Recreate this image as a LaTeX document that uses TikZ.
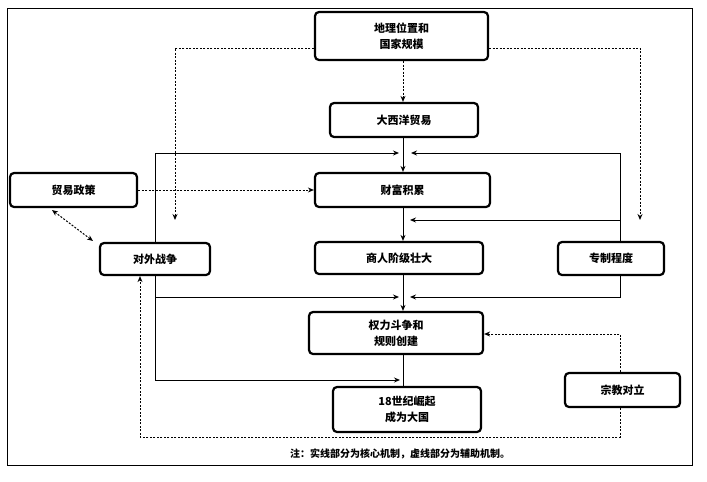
\documentclass[tikz,border=0pt]{standalone}
\usepackage{fontspec}
\setmainfont{Noto Sans CJK SC}
\usetikzlibrary{arrows.meta}
\begin{document}
\begin{tikzpicture}[x=1pt,y=-1pt,
  box/.style={draw,line width=2.2pt,rounded corners=4pt,align=center,font=\bfseries\fontsize{11}{16}\selectfont,inner sep=0pt},
  sol/.style={line width=1pt,-{Stealth[length=6pt,width=5pt]}},
  dsh/.style={line width=1pt,dash pattern=on 2pt off 1.5pt,-{Stealth[length=6pt,width=5pt]}}]
\useasboundingbox (0,0) rectangle (707,482);
\draw[line width=1pt] (7,8) rectangle (692,465);
\node[box,minimum width=173pt,minimum height=48pt] (geo) at (401.5,36) {地理位置和\\国家规模};
\node[box,minimum width=148pt,minimum height=34pt] (atl) at (404,120) {大西洋贸易};
\node[box,minimum width=175pt,minimum height=34pt] (wea) at (402.5,190) {财富积累};
\node[box,minimum width=127pt,minimum height=34pt] (tp) at (73.5,190) {贸易政策};
\node[box,minimum width=110pt,minimum height=32pt] (war) at (155,259) {对外战争};
\node[box,minimum width=168pt,minimum height=32pt] (mer) at (399,258) {商人阶级壮大};
\node[box,minimum width=106pt,minimum height=33pt] (des) at (611,258.5) {专制程度};
\node[box,minimum width=174pt,minimum height=42pt] (pow) at (396,333) {权力斗争和\\规则创建};
\node[box,minimum width=148pt,minimum height=45pt] (ris) at (407,409.5) {18世纪崛起\\成为大国};
\node[box,minimum width=115pt,minimum height=34pt] (rel) at (622.5,390) {宗教对立};
\node[font=\bfseries\fontsize{10}{12}\selectfont] (note) at (400,454) {注：实线部分为核心机制，虚线部分为辅助机制。};
\coordinate (wl) at (175,220); \coordinate (wr) at (640,220);
\coordinate (a1) at (399,153); \coordinate (a2) at (411,153);
\coordinate (b1) at (410,220);
\coordinate (c1) at (399,297); \coordinate (c2) at (410,297);
\coordinate (d1) at (400,380);
\draw[dsh] (geo.south -| 403,0) -- (atl.north -| 403,0);
\draw[dsh] (geo.west |- 0,48) -| (wl);
\draw[dsh] (geo.east |- 0,48) -| (wr);
\draw[sol] (atl.south -| 403,0) -- (wea.north -| 403,0);
\draw[sol] (war.north -| 155,0) |- (a1);
\draw[sol] (des.north -| 620,0) |- (a2);
\draw[dsh] (tp) -- (wea.west);
\draw[dsh,{Stealth[length=6pt,width=5pt]}-{Stealth[length=6pt,width=5pt]}] (52,210) -- (93,241);
\draw[sol] (wea.south -| 403,0) -- (mer.north -| 403,0);
\draw[sol] (620,220) -- (b1);
\draw[sol] (mer.south -| 403,0) -- (pow.north -| 403,0);
\draw[sol] (war.south -| 155,0) |- (c1);
\draw[sol] (des.south -| 620,0) |- (c2);
\draw[sol] (155,297) |- (d1);
\draw[line width=1pt] (pow.south -| 403,0) -- (ris.north -| 403,0);
\draw[dsh] (rel.north -| 620,0) |- (pow.east |- 0,334);
\draw[dsh] (rel.south -| 620,0) |- (140,437) -- (war.south -| 140,0);
\end{tikzpicture}
\end{document}
